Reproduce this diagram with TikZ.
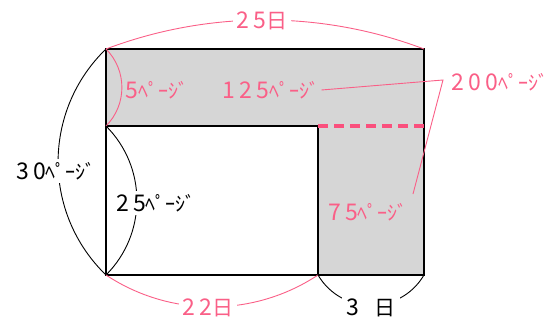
\documentclass[tikz,border=0pt]{standalone}
\usepackage{fontspec}
\setmainfont{Noto Sans CJK JP}
\newfontfamily\digf[LetterSpace=18]{Noto Sans CJK JP}
\newcommand\pgtxt{ﾍﾟｰｼﾞ}
\newcommand\dg[1]{{\fontsize{23}{26}\digf #1}}
\newcommand\nichi{{\fontsize{21}{26}\selectfont 日}}
\definecolor{pinkc}{RGB}{250,95,135}
\definecolor{dashpink}{RGB}{250,80,125}
\definecolor{bandgray}{RGB}{214,214,214}
\begin{document}
\begin{tikzpicture}[x=1pt,y=-1pt,
  lbl/.style={inner sep=2pt,font=\fontsize{20}{24}\selectfont},
  pinklbl/.style={lbl,text=pinkc},
  blacklbl/.style={lbl,text=black},
  brace/.style={line width=0.9pt},
  edge/.style={line width=2.6pt},
]
\useasboundingbox (0,0) rectangle (560,324);
% corners
\coordinate (tl) at (106,49);
\coordinate (tr) at (424,49);
\coordinate (ml) at (106,126);
\coordinate (mm) at (318,126);
\coordinate (mr) at (424,126);
\coordinate (bl) at (106,275);
\coordinate (bm) at (318,275);
\coordinate (br) at (424,275);
% shapes
\fill[bandgray] (tl) rectangle (br);
\fill[white] (ml) rectangle (bm);
\draw[edge] (tl) rectangle (br);
\draw[edge] (ml) -- (mm) -- (bm);
\draw[dashpink,line width=3.6pt,dash pattern=on 10pt off 6pt] (mm) -- (mr);
% braces
\draw[brace,pinkc] (tl) .. controls +(102.5,-38.7) and +(-102.5,-38.7) .. (tr);
\draw[brace,black] (tl) .. controls +(-63.9,61.8) and +(-63.9,-61.8) .. (bl);
\draw[brace,pinkc] (tl) .. controls +(21.2,21.2) and +(21.2,-21.2) .. (ml);
\draw[brace,black] (ml) .. controls +(41.2,41.2) and +(41.2,-41.2) .. (bl);
\draw[brace,pinkc] (bl) .. controls +(64.2,42.5) and +(-64.2,42.5) .. (bm);
\draw[brace,black] (bm) .. controls +(23.8,40.3) and +(-23.8,40.3) .. (br);
% labels
\node[pinklbl,fill=white,inner xsep=4pt] (t25d) at (262,21) {\dg{25}\nichi};
\node[blacklbl,fill=white,inner ysep=3pt] (t30) at (56,171) {\dg{30}\pgtxt};
\node[pinklbl,fill=bandgray,inner ysep=3pt] (t5) at (157,90) {\dg{5}\pgtxt};
\node[pinklbl] (t125) at (271,90) {\dg{125}\pgtxt};
\node[pinklbl] (t200) at (500,82) {\dg{200}\pgtxt};
\node[pinklbl] (t75) at (368,212) {\dg{75}\pgtxt};
\node[blacklbl,fill=white,inner ysep=3pt] (t25p) at (156,203) {\dg{25}\pgtxt};
\node[pinklbl,fill=white,inner xsep=4pt] (t22) at (208,308) {\dg{22}\nichi};
\node[blacklbl,fill=white,inner xsep=4pt] (t3) at (371,308) {\dg{3}\kern16pt\nichi};
% leader
\coordinate (j) at (443,80);
\coordinate (e75) at (413,194);
\draw[pinkc,line width=0.9pt] (t125.east) -- (j) -- (e75);
\end{tikzpicture}
\end{document}
